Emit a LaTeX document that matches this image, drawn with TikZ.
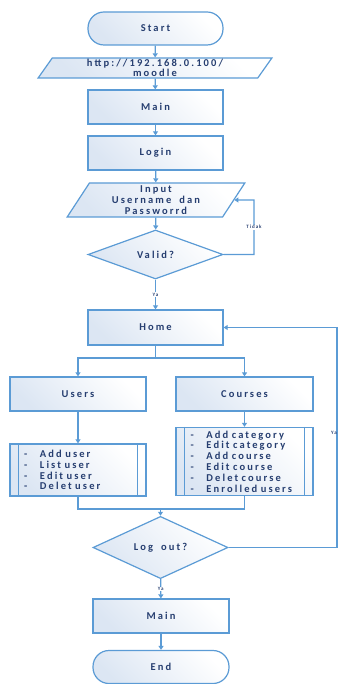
\documentclass[tikz,border=0pt]{standalone}
\usepackage{fontspec}
\setmainfont{Carlito}[LetterSpace=20,WordSpace=1.8]
\usetikzlibrary{shapes.geometric,arrows.meta}
\definecolor{flowline}{RGB}{91,155,213}
\definecolor{flowtext}{RGB}{38,62,112}
\definecolor{flowfill}{RGB}{220,230,243}
\newcommand{\listdash}{\makebox[16pt][l]{-}}

\begin{document}
\begin{tikzpicture}[x=1pt,y=-1pt,font=\fontsize{10.5}{10}\selectfont\bfseries]
\tikzstyle{box}=[draw=flowline,line width=1.2pt,top color=white,bottom color=flowfill,shading angle=-45,text=flowtext]
\tikzstyle{terminal}=[box,rectangle,rounded corners=16pt,minimum width=135pt,minimum height=33pt]
\tikzstyle{process}=[box,rectangle,minimum width=135pt,minimum height=34pt]
\tikzstyle{io}=[box,trapezium,trapezium left angle=64,trapezium right angle=116,trapezium stretches=true,align=center,inner sep=1pt]
\tikzstyle{decision}=[box,diamond,minimum width=135pt,minimum height=49pt,inner sep=0pt]
\tikzstyle{listbox}=[box,rectangle,minimum width=136pt,text width=108pt,inner xsep=14pt,align=left,font=\fontsize{10.5}{10.8}\selectfont\bfseries]
\tikzstyle{link}=[line width=1.2pt,draw=flowline]
\tikzstyle{flow}=[link,-{Triangle[length=4pt,width=5pt]}]
\tikzstyle{tag}=[font=\fontsize{5}{5}\selectfont\bfseries,text=flowtext,fill=white,inner sep=0.5pt]
\useasboundingbox (0,0) rectangle (339,684);

\node[terminal] (start) at (155.5,28.5) {Start};
\node[io,minimum width=234pt,minimum height=20pt] (url) at (155,68) {http://192.168.0.100/\\moodle};
\node[process] (main) at (155.5,107) {Main};
\node[process] (login) at (155.5,153) {Login};
\node[io,minimum width=178pt,minimum height=34pt,font=\fontsize{10.5}{11}\selectfont\bfseries] (input) at (156,200) {Input\\Username dan\\Passworrd};
\node[decision] (valid) at (155.5,254.5) {Valid?};
\node[process,minimum height=35pt] (home) at (155.5,327.5) {Home};
\node[process,minimum width=136pt] (users) at (78,394) {Users};
\node[process,minimum width=137pt] (courses) at (244.5,394) {Courses};
\node[listbox,minimum height=52pt] (userlist) at (78,470) {\listdash Add user\\\listdash List user\\\listdash Edit user\\\listdash Delet user};
\node[listbox,minimum width=137pt,minimum height=67pt] (courselist) at (244.5,461.5) {\listdash Add category\\\listdash Edit category\\\listdash Add course\\\listdash Edit course\\\listdash Delet course\\\listdash Enrolled users};
\node[decision] (logout) at (160.5,547.5) {Log out?};
\node[process,minimum width=136pt] (mainb) at (161,616) {Main};
\node[terminal,minimum width=136pt] (finish) at (161,667) {End};

% double side bars of the list boxes
\foreach \n in {userlist,courselist} {
  \draw[link] ([xshift=9pt]\n.north west) -- ([xshift=9pt]\n.south west);
  \draw[link] ([xshift=-9pt]\n.north east) -- ([xshift=-9pt]\n.south east);
}

\coordinate (notvalid) at (254,200);
\coordinate (split) at (155.5,358);
\coordinate (merge) at (160.5,509);
\coordinate (again) at (337,327.5);

\draw[flow] (start) -- (url);
\draw[flow] (url) -- (main);
\draw[flow] (main) -- (login);
\draw[flow] (login) -- (input);
\draw[flow] (input) -- (valid);
\draw[flow] (valid) -- node[tag] {Ya} (home);
\draw[flow] (valid.east) -| node[tag,pos=0.75] {Tidak} (notvalid) -- (input.east);

\draw[link] (home) -- (split);
\draw[flow] (split) -| (users);
\draw[flow] (split) -| (courses);
\draw[flow] (users) -- (userlist);
\draw[flow] (courses) -- (courselist);
\draw[link] (userlist) |- (merge);
\draw[link] (courselist) |- (merge);
\draw[flow] (merge) -- (logout);
\draw[flow] (logout) -- node[tag] {Ya} (mainb);
\draw[flow] (mainb) -- (finish);
\draw[flow] (logout.east) -| node[tag,pos=0.76,anchor=east,fill=none,xshift=1pt] {Ya} (again) -- (home.east);
\end{tikzpicture}
\end{document}
